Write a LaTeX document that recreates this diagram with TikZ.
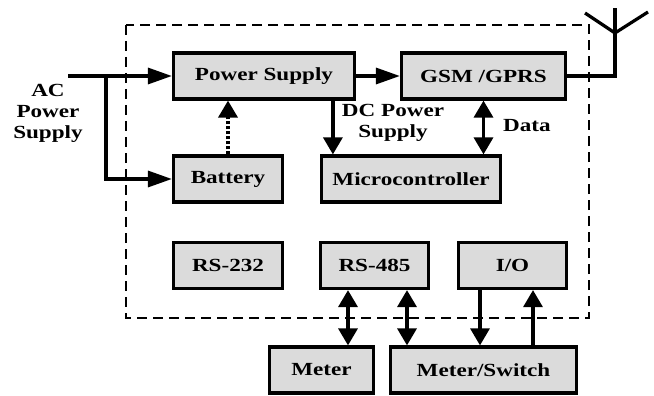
\documentclass[tikz,border=0pt]{standalone}
\usepackage{fontspec}
\setmainfont{Liberation Serif}[FakeStretch=1.25]
\usepackage{tikz}
\usetikzlibrary{arrows.meta, positioning, calc}

\begin{document}
\begin{tikzpicture}[x=1pt, y=-1pt,
    block/.style={draw, line width=3.2pt, fill=black!14, font=\fontsize{18.5}{20}\selectfont\bfseries,
                  inner sep=0pt, minimum height=46pt},
    lbl/.style={font=\fontsize{18.5}{21}\selectfont\bfseries, align=center, inner sep=0pt},
    harr/.style={line width=3.2pt, -{Triangle[length=24pt,width=16pt]}},
    varr/.style={line width=3.2pt, -{Triangle[length=17pt,width=19pt]}},
    dbl/.style={line width=3.4pt, {Triangle[length=17pt,width=19pt]}-{Triangle[length=17pt,width=19pt]}},
    wire/.style={line width=3.2pt},
]
\useasboundingbox (0,0) rectangle (654,396);
% module boundary
\draw[line width=2.8pt, dash pattern=on 10pt off 6pt] (126,25) rectangle (589,318);

% blocks inside the module
\node[block, minimum width=181pt] (ps) at (264,76) {Power Supply};
\node[block, minimum width=164pt] (gsm) at (483.5,76) {GSM /GPRS};
\node[block, minimum width=109pt] (bat) at (228,179) {Battery};
\node[block, minimum width=179pt] (mcu) at (411,179) {Microcontroller};
\node[block, minimum width=109pt] (rs232) at (228,265.5) {RS-232};
\node[block, minimum width=108pt] (rs485) at (374.5,265.5) {RS-485};
\node[block, minimum width=108pt] (io) at (512.5,265.5) {I/O};
% external devices
\node[block, minimum width=104pt] (meter) at (321.5,370) {Meter};
\node[block, minimum width=186pt] (msw) at (483.5,370) {Meter/Switch};

% labels
\node[lbl] (aclbl) at (48,113) {AC\\Power\\Supply};
\node[lbl] (dclbl) at (393,123) {DC Power\\Supply};
\node[lbl] (datalbl) at (527,126) {Data};

% AC input and branch to battery
\coordinate (acin) at (68,76);
\coordinate (split) at (106,76);
\draw[harr] (acin) -- (ps.west);
\draw[harr] (split) |- (bat.west);
\draw[varr, line width=3.6pt, dash pattern=on 3pt off 2pt] (bat.north) -- (bat.north |- ps.south);
\draw[harr] (ps.east) -- (gsm.west);

% DC supply and data
\coordinate (dc) at ([xshift=161pt]ps.south west);
\draw[varr] (dc) -- (dc |- mcu.north);
\draw[dbl] (gsm.south) -- (gsm.south |- mcu.north);

% antenna
\coordinate (ant) at (615,76);
\coordinate (antv) at (615,33);
\draw[wire] (gsm.east) -- (ant) -- (615,8);
\draw[wire] (585,13) -- (antv) -- (648,12);

% field connections
\coordinate (m1) at ([xshift=26.5pt]meter.north);
\coordinate (m2) at ([xshift=-76.5pt]msw.north);
\coordinate (m3) at ([xshift=-3.5pt]msw.north);
\coordinate (m4) at ([xshift=49.5pt]msw.north);
\draw[dbl] (m1) -- (m1 |- rs485.south);
\draw[dbl] (m2) -- (m2 |- rs485.south);
\draw[varr] (m3 |- io.south) -- (m3);
\draw[varr] (m4) -- (m4 |- io.south);
\end{tikzpicture}
\end{document}
